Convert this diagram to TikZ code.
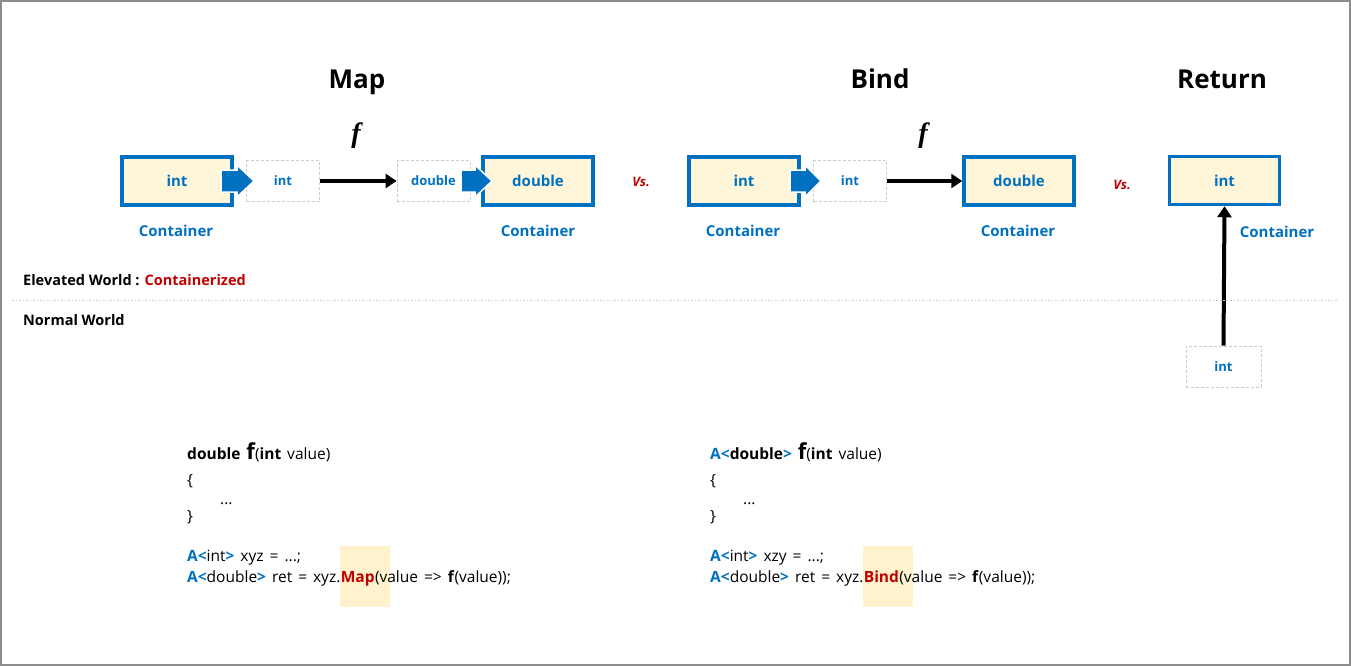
\documentclass[tikz,border=0pt]{standalone}
\usepackage{fontspec}
\setmainfont{Open Sans}
\newfontfamily\fserif{Liberation Serif}
\usetikzlibrary{arrows.meta,backgrounds}
\definecolor{cblue}{HTML}{0070C0}
\definecolor{cred}{HTML}{C00000}
\definecolor{cream}{HTML}{FFF5D8}
\definecolor{hl}{HTML}{FFF2CC}
\definecolor{frame}{HTML}{8C8C8C}
\newcommand{\fs}[1]{\fontsize{#1}{#1}\selectfont}
\newcommand{\bl}[1]{\textcolor{cblue}{\bfseries #1}}
\newcommand{\bigf}{{\bfseries\fs{22}f}}
\newcommand{\codefont}{\fontsize{15.5}{16}\selectfont\spaceskip=6pt plus 0pt\relax}
\begin{document}
\begin{tikzpicture}[x=1pt,y=-1pt,
  cont/.style={draw=cblue, line width=3.5pt, fill=cream, inner sep=0pt,
    minimum width=110pt, minimum height=48pt, text=cblue, font=\bfseries\fs{15}},
  dbox/.style={draw=black!20, dash pattern=on 3pt off 2pt, line width=0.8pt, inner sep=0pt,
    minimum width=73pt, minimum height=41pt, text=cblue, font=\bfseries\fs{13}},
  clabel/.style={text=cblue, font=\bfseries\fs{15}, inner sep=0pt},
  title/.style={font=\bfseries\fs{26}, anchor=base, inner sep=0pt},
  fname/.style={font=\fserif\bfseries\itshape\fs{28}, inner sep=0pt},
  vs/.style={text=cred, font=\bfseries\itshape\fs{13}, inner sep=0pt},
  world/.style={font=\bfseries\fs{14.5}, anchor=west, inner sep=0pt},
  code/.style={font=\codefont, anchor=base west, inner sep=0pt},
  conn/.style={line width=4pt, -{Triangle[length=11pt,width=14pt]}},
  barrow/.style={fill=cblue, draw=white, line width=1.5pt},
]
\useasboundingbox (0,0) rectangle (1351,666);
\draw[frame, line width=2pt] (1,1) rectangle (1350,665);

% titles
\node[title] (tmap) at (357,89) {Map};
\node[title] (tbind) at (880,89) {Bind};
\node[title] (tret) at (1222,89) {Return};
\node[fname] (f1) at (356,136) {f};
\node[fname] (f2) at (923,136) {f};

% Map
\node[cont] (m1) at (177,181) {int};
\node[dbox] (m2) at (283,181) {int};
\node[dbox] (m3) at (433.5,181) {double};
\node[cont] (m4) at (538,181) {double};
\draw[conn] (m2.east) -- (m3.west);
\node[clabel] (ml1) at (176,231) {Container};
\node[clabel] (ml2) at (538,231) {Container};
\node[vs] (vs1) at (641,182) {Vs.};

% Bind
\node[cont] (b1) at (744,181) {int};
\node[dbox] (b2) at (850,181) {int};
\node[cont] (b3) at (1019,181) {double};
\draw[conn] (b2.east) -- (b3.west);
\node[clabel] (bl1) at (743,231) {Container};
\node[clabel] (bl2) at (1018,231) {Container};
\node[vs] (vs2) at (1122,185) {Vs.};

% Return
\node[cont] (r1) at (1224.5,180.5) {int};
\node[dbox, minimum width=75pt] (r0) at (1223.5,366.5) {int};
\draw[conn] (r0.north) -- (r1.south);
\node[clabel] (rl) at (1277,232) {Container};

% block arrows
\draw[barrow] (221,170) -- (237,170) -- (237,165) -- (254,181) -- (237,197) -- (237,192) -- (221,192) -- cycle;
\draw[barrow] (461,170) -- (475,170) -- (475,165) -- (492,181) -- (475,197) -- (475,192) -- (461,192) -- cycle;
\draw[barrow] (790,170) -- (805,170) -- (805,165) -- (821,181) -- (805,197) -- (805,192) -- (790,192) -- cycle;

% worlds
\node[world] (ew) at (23,280) {Elevated World : \textcolor{cred}{Containerized}};
\draw[black!20, line width=1pt, dash pattern=on 1.5pt off 2pt] (12,300) -- (1338,300);
\node[world] (nw) at (23,320) {Normal World};

% left code
\node[code] (lc1) at (187,459) {\textbf{double} \bigf(\textbf{int} value)};
\node[code] (lc2) at (187,485) {\{};
\node[code] (lc3) at (220,504) {...};
\node[code] (lc4) at (187,521) {\}};
\node[code] (lc5) at (187,561) {\bl{A<}int\bl{>} xyz = ...;};
\node[code] (lc6a) at (187,582) {\bl{A<}double\bl{>} ret = xyz.};
\node[code] (lc6b) at (lc6a.base east) {\textcolor{cred}{\bfseries Map}};
\node[code] (lc6c) at (lc6b.base east) {(value => \textbf{f}(value));};

% right code
\node[code] (rc1) at (710,459) {\bl{A<}\textbf{double}\bl{>} \bigf(\textbf{int} value)};
\node[code] (rc2) at (710,485) {\{};
\node[code] (rc3) at (743,504) {...};
\node[code] (rc4) at (710,521) {\}};
\node[code] (rc5) at (710,561) {\bl{A<}int\bl{>} xzy = ...;};
\node[code] (rc6a) at (710,582) {\bl{A<}double\bl{>} ret = xyz.};
\node[code] (rc6b) at (rc6a.base east) {\textcolor{cred}{\bfseries Bind}};
\node[code] (rc6c) at (rc6b.base east) {(value => \textbf{f}(value));};

\begin{scope}[on background layer]
\fill[white] (0,0) rectangle (1351,666);
\fill[hl] ([xshift=-1pt]lc6b.west |- 0,546) rectangle ([xshift=49pt]lc6b.west |- 0,607);
\fill[hl] ([xshift=-1pt]rc6b.west |- 0,546) rectangle ([xshift=49pt]rc6b.west |- 0,607);
\end{scope}
\end{tikzpicture}
\end{document}
